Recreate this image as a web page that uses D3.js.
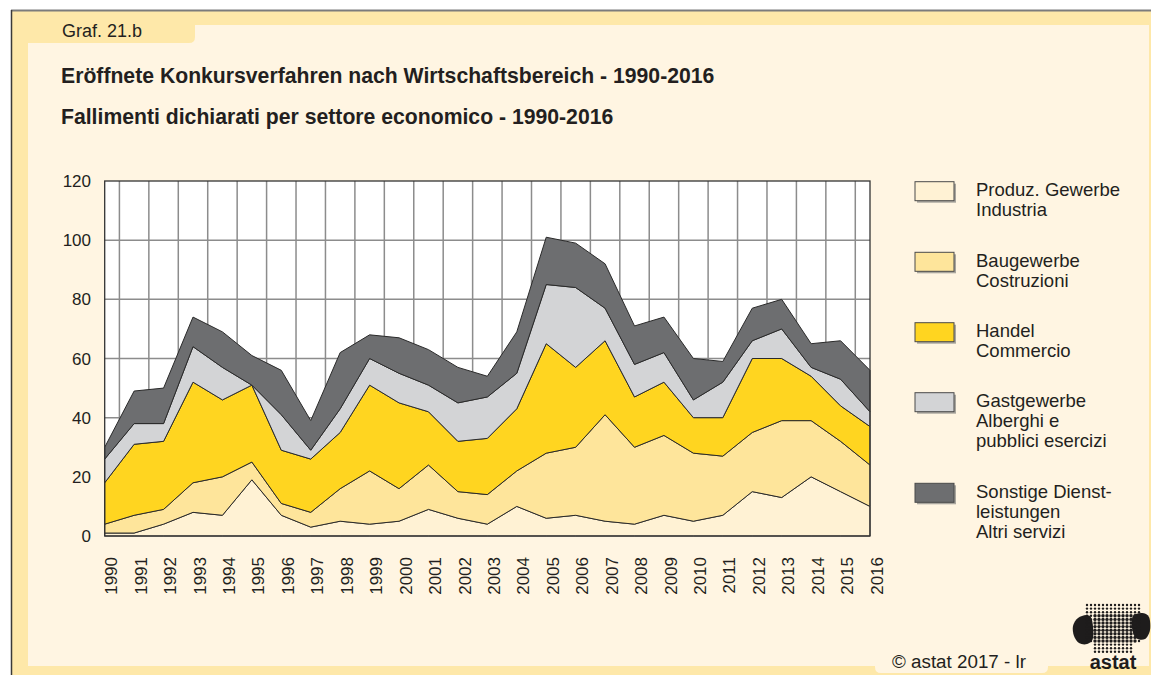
<!DOCTYPE html>
<html>
<head>
<meta charset="utf-8">
<script src="https://cdn.jsdelivr.net/npm/d3@7"></script>
<style>
  html, body { margin: 0; padding: 0; background: #fff; }
  svg { display: block; font-family: "Liberation Sans", Arial, sans-serif; }
</style>
</head>
<body>
<svg id="chart" width="1151" height="675"></svg>
<script>
// data
const years = d3.range(1990, 2017);
const industria = [1, 1, 4, 8, 7, 19, 7, 3, 5, 4, 5, 9, 6, 4, 10, 6, 7, 5, 4, 7, 5, 7, 15, 13, 20, 15, 10];
const costruzioni = [3, 6, 5, 10, 13, 6, 4, 5, 11, 18, 11, 15, 9, 10, 12, 22, 23, 36, 26, 27, 23, 20, 20, 26, 19, 17, 14];
const commercio = [14, 24, 23, 34, 26, 26, 18, 18, 19, 29, 29, 18, 17, 19, 21, 37, 27, 25, 17, 18, 12, 13, 25, 21, 15, 12, 13];
const alberghi = [8, 7, 6, 12, 11, 0, 12, 3, 8, 9, 10, 9, 13, 14, 12, 20, 27, 11, 11, 10, 6, 12, 6, 10, 3, 9, 5];
const altriServizi = [4, 11, 12, 10, 12, 10, 15, 10, 19, 8, 12, 12, 12, 7, 14, 16, 15, 15, 13, 12, 14, 7, 11, 10, 8, 13, 14];

const seriesKeys = ["industria", "costruzioni", "commercio", "alberghi", "altriServizi"];
const seriesLabels = [
    ["Produz. Gewerbe", "Industria"],
    ["Baugewerbe", "Costruzioni"],
    ["Handel", "Commercio"],
    ["Gastgewerbe", "Alberghi e", "pubblici esercizi"],
    ["Sonstige Dienst-", "leistungen", "Altri servizi"]
];
const seriesColors = ["#fff2d4", "#fee59b", "#ffd520", "#d3d4d6", "#6d6e70"];
const yTicks = [0, 20, 40, 60, 80, 100, 120];

const rows = years.map((y, i) => ({
    year: y,
    industria: industria[i],
    costruzioni: costruzioni[i],
    commercio: commercio[i],
    alberghi: alberghi[i],
    altriServizi: altriServizi[i]
}));

const svg = d3.select("#chart");
const W = 1151, H = 675;
const band = "#fee8a9", paper = "#fff5e2", ink = "#231f20";

// page frame
svg.append("rect").attr("x", 11).attr("y", 10).attr("width", W - 11).attr("height", H - 10).attr("fill", band);
svg.append("rect").attr("x", 28).attr("y", 25).attr("width", 1149 - 28).attr("height", 666 - 25).attr("fill", paper);
svg.append("path")
    .attr("d", "M28,25 H195 V37 Q195,43 189,43 H28 Z")
    .attr("fill", band);
svg.append("path")
    .attr("d", "M875,660 H1048 V667 Q1048,673 1042,673 H881 Q875,673 875,667 Z")
    .attr("fill", paper);
svg.append("line").attr("x1", 11).attr("x2", W).attr("y1", 10.5).attr("y2", 10.5)
    .attr("stroke", "#7c7c7c").attr("stroke-width", 2);
svg.append("line").attr("x1", 11.5).attr("x2", 11.5).attr("y1", 10).attr("y2", H)
    .attr("stroke", "#3a3a3a").attr("stroke-width", 1.5);

svg.append("text").attr("x", 62).attr("y", 37).attr("font-size", 18).attr("fill", ink)
    .text("Graf. 21.b");

svg.append("text").attr("x", 61).attr("y", 83).attr("font-size", 21.2).attr("font-weight", "bold").attr("fill", ink)
    .text("Eröffnete Konkursverfahren nach Wirtschaftsbereich - 1990-2016");
svg.append("text").attr("x", 61).attr("y", 124).attr("font-size", 21.2).attr("font-weight", "bold").attr("fill", ink)
    .text("Fallimenti dichiarati per settore economico - 1990-2016");

// plot
const x0 = 104.7, x1 = 870, y0 = 181, y1 = 536;
const x = d3.scaleLinear().domain([1990, 2016]).range([x0, x1]);
const y = d3.scaleLinear().domain([0, 120]).range([y1, y0]);
const step = x(1991) - x(1990);

const plot = svg.append("g");
plot.append("rect").attr("x", x0).attr("y", y0).attr("width", x1 - x0).attr("height", y1 - y0).attr("fill", "#fff");

// grid
plot.selectAll("line.vgrid")
    .data(years.slice(0, -1))
    .join("line")
    .attr("class", "vgrid")
    .attr("x1", d => x(d) + step / 2).attr("x2", d => x(d) + step / 2)
    .attr("y1", y0).attr("y2", y1)
    .attr("stroke", "#8c8c8c").attr("stroke-width", 1.5);
plot.selectAll("line.hgrid")
    .data(yTicks.filter(t => t > 0 && t < 120))
    .join("line")
    .attr("class", "hgrid")
    .attr("x1", x0).attr("x2", x1)
    .attr("y1", d => y(d)).attr("y2", d => y(d))
    .attr("stroke", "#8c8c8c").attr("stroke-width", 1.5);

// stacked areas
const stack = d3.stack().keys(seriesKeys);
const layers = stack(rows);
const area = d3.area()
    .x(d => x(d.data.year))
    .y0(d => y(d[0]))
    .y1(d => y(d[1]));

plot.selectAll("path.layer")
    .data(layers)
    .join("path")
    .attr("class", "layer")
    .attr("d", area)
    .attr("fill", (d, i) => seriesColors[i])
    .attr("stroke", "#2a2a2a")
    .attr("stroke-width", 1)
    .attr("stroke-linejoin", "round");

plot.append("rect").attr("x", x0).attr("y", y0).attr("width", x1 - x0).attr("height", y1 - y0)
    .attr("fill", "none").attr("stroke", "#333").attr("stroke-width", 1.3);

// y axis labels
plot.selectAll("text.ylab")
    .data(yTicks)
    .join("text")
    .attr("class", "ylab")
    .attr("x", 91)
    .attr("y", d => y(d))
    .attr("dy", "0.36em")
    .attr("text-anchor", "end")
    .attr("font-size", 17)
    .attr("fill", ink)
    .text(d => d);

// x axis labels
plot.selectAll("text.xlab")
    .data(years)
    .join("text")
    .attr("class", "xlab")
    .attr("transform", d => `translate(${x(d) + 6.5},557) rotate(-90)`)
    .attr("dy", "0.36em")
    .attr("text-anchor", "end")
    .attr("font-size", 17)
    .attr("fill", ink)
    .text(d => d);

// legend
const boxTops = [181.7, 252.3, 322.7, 392.7, 483.3];
const legend = svg.append("g");
seriesKeys.forEach((k, i) => {
    const g = legend.append("g").attr("transform", `translate(915,${boxTops[i]})`);
    g.append("rect").attr("x", 2).attr("y", 2).attr("width", 39).attr("height", 19).attr("fill", "#a9a69e");
    g.append("rect").attr("x", 0).attr("y", 0).attr("width", 39).attr("height", 19)
        .attr("fill", seriesColors[i]).attr("stroke", "#4a4a4a").attr("stroke-width", 1);
    g.selectAll("text")
        .data(seriesLabels[i])
        .join("text")
        .attr("x", 61)
        .attr("y", (d, j) => 14.5 + j * 20)
        .attr("font-size", 18.5)
        .attr("fill", ink)
        .text(d => d);
});

// credit
svg.append("text").attr("x", 892).attr("y", 668).attr("font-size", 18.8).attr("fill", ink)
    .text("©  astat 2017 - lr");

// logo (rough)
const logo = svg.append("g");
const lobes = [
    [[1073, 626], [1078, 618], [1087, 615], [1092, 620], [1093, 638], [1087, 644], [1079, 643], [1074, 636]],
    [[1133, 616], [1142, 613], [1149, 617], [1150, 630], [1145, 639], [1136, 638], [1132, 628]]
];
logo.selectAll("path")
    .data(lobes)
    .join("path")
    .attr("d", d3.line().curve(d3.curveCardinalClosed))
    .attr("fill", "#1e1c1c");
const dots = [];
for (let r = 0; r < 14; r++) {
    for (let c = 0; c < 14; c++) {
        if (r > 10 && (c < 2 || c > 11)) continue;
        const dense = r >= 3 && r <= 10 && c >= 2 && c <= 12;
        dots.push({ cx: 1087 + c * 4, cy: 605 + r * 3.6, r: dense ? 1.7 : 1.2 });
    }
}
logo.selectAll("circle")
    .data(dots)
    .join("circle")
    .attr("cx", d => d.cx).attr("cy", d => d.cy)
    .attr("r", d => d.r)
    .attr("fill", "#1e1c1c");
logo.append("text").attr("x", 1113).attr("y", 669).attr("text-anchor", "middle")
    .attr("font-size", 20).attr("font-weight", "bold").attr("fill", "#1e1c1c")
    .text("astat");
</script>
</body>
</html>
